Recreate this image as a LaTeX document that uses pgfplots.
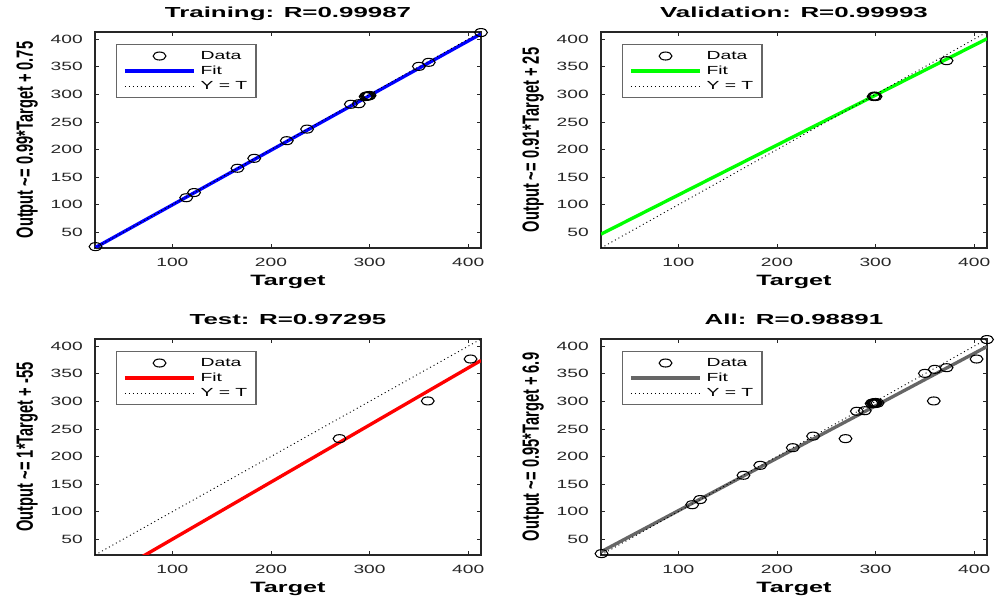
\documentclass[border=0pt]{standalone}
\usepackage{fontspec}
\setmainfont{Liberation Sans}
\usepackage{graphicx}
\usepackage{pgfplots}
\pgfplotsset{compat=1.18}

% the reference is stretched sideways, so text is widened to match
\newcommand{\sx}[2][1.6]{\scalebox{#1}[1]{#2}}
\newcommand{\sy}[1]{\scalebox{1}[1.6]{#1}}

\definecolor{fitgray}{RGB}{102,102,102}

\pgfplotsset{
  regplot/.style={
    width=289.5pt, height=162pt, scale only axis, anchor=south west,
    xmin=21.5, xmax=413, ymin=21.5, ymax=413,
    xtick={100,200,300,400}, ytick={50,100,150,200,250,300,350,400},
    xticklabels={\sx{100},\sx{200},\sx{300},\sx{400}},
    yticklabels={\sx{50},\sx{100},\sx{150},\sx{200},\sx{250},\sx{300},\sx{350},\sx{400}},
    tick label style={font=\fontsize{9}{9}\selectfont, black!85},
    xticklabel style={anchor=base, yshift=-13.7pt},
    yticklabel style={anchor=east, inner sep=0pt, xshift=-9pt},
    axis line style={black!85, line width=0.8pt},
    tick style={black!85, line width=0.6pt},
    major tick length=3pt, tick align=inside,
    xlabel={\sx[1.68]{Target}},
    xlabel style={font=\bfseries\fontsize{11.25}{12}\selectfont, at={(axis description cs:0.5,0)}, anchor=base, yshift=-28pt},
    ylabel style={font=\bfseries\fontsize{11}{12}\selectfont, at={(axis description cs:-0.176,0.5)}, anchor=center},
    title style={font=\bfseries\fontsize{10.9}{12}\selectfont, at={(axis description cs:0.5,1)}, anchor=base, yshift=5.1pt},
    legend style={at={(axis description cs:0,1)}, anchor=north west, xshift=15.75pt, yshift=-9pt,
      draw=black!60, line width=0.8pt, font=\fontsize{8.8}{9}\selectfont,
      inner xsep=5pt, inner ysep=3pt, row sep=0pt, column sep=2pt,
      nodes={inner sep=1.5pt, text height=6.75pt, text depth=1.5pt}},
    legend cell align=left,
    legend image code/.code={\draw[#1] (4pt,0pt) -- (56pt,0pt);},
  },
  datapts/.style={only marks, black, mark=o, mark size=3pt,
    mark options={xscale=1.6, line width=0.8pt, solid},
    legend image code/.code={\draw[mark repeat=2, mark phase=2, ##1] plot coordinates {(4pt,0pt) (30pt,0pt) (56pt,0pt)};}},
  ytline/.style={black, line width=0.7pt, dash pattern=on 0.75pt off 2.25pt},
  fitline/.style={line width=2.5pt,
    legend image code/.code={\draw[##1, line width=2.5pt] (4pt,0pt) -- (56pt,0pt);}},
}

\begin{document}
\begin{tikzpicture}
\useasboundingbox (0,0) rectangle (750.75pt,449.25pt);

% Training (lines first, circles drawn over them)
\begin{axis}[regplot, at={(71.25pt,263.25pt)},
  title={\sx[1.78]{Training: R=0.99987}},
  ylabel={\sy{Output \textasciitilde= 0.99*Target + 0.75}}]
\addplot[blue, fitline, forget plot] coordinates {(21.5,22.0) (413,409.6)};
\addplot[ytline, forget plot] coordinates {(21.5,21.5) (413,413)};
\addplot[datapts] coordinates {(22,24) (114,112.6) (122,122) (166,166) (183,184) (216,216) (236.6,237) (281,282) (289,283) (296,296) (297,297) (298,297) (299,297) (300,298) (350,350.7) (360,358) (413,412)};
\addlegendentry{\sx[1.65]{Data}}
\addlegendimage{blue, fitline}
\addlegendentry{\sx[1.65]{Fit}}
\addlegendimage{ytline}
\addlegendentry{\sx[1.65]{Y = T}}
\end{axis}

% Validation
\begin{axis}[regplot, at={(450.75pt,263.25pt)},
  title={\sx[1.78]{Validation: R=0.99993}},
  ylabel={\sy{Output \textasciitilde= 0.91*Target + 25}}]
\addplot[green, fitline, forget plot] coordinates {(21.5,46.6) (413,400.8)};
\addplot[ytline, forget plot] coordinates {(21.5,21.5) (413,413)};
\addplot[datapts] coordinates {(298,296) (299,297) (300,296) (372,361)};
\addlegendentry{\sx[1.65]{Data}}
\addlegendimage{green, fitline}
\addlegendentry{\sx[1.65]{Fit}}
\addlegendimage{ytline}
\addlegendentry{\sx[1.65]{Y = T}}
\end{axis}

% Test
\begin{axis}[regplot, at={(71.25pt,33pt)},
  title={\sx[1.78]{Test: R=0.97295}},
  ylabel={\sy{Output \textasciitilde= 1*Target + -55}}]
\addplot[red, fitline, forget plot] coordinates {(21.5,-31.1) (413,374.1)};
\addplot[ytline, forget plot] coordinates {(21.5,21.5) (413,413)};
\addplot[datapts] coordinates {(269.5,232.4) (359,300.7) (402.4,376.7)};
\addlegendentry{\sx[1.65]{Data}}
\addlegendimage{red, fitline}
\addlegendentry{\sx[1.65]{Fit}}
\addlegendimage{ytline}
\addlegendentry{\sx[1.65]{Y = T}}
\end{axis}

% All
\begin{axis}[regplot, at={(450.75pt,33pt)},
  title={\sx[1.78]{All: R=0.98891}},
  ylabel={\sy{Output \textasciitilde= 0.95*Target + 6.9}}]
\addplot[fitgray, fitline, forget plot] coordinates {(21.5,27.3) (413,399.3)};
\addplot[ytline, forget plot] coordinates {(21.5,21.5) (413,413)};
\addplot[datapts] coordinates {(22,24) (114,112.6) (122,122) (166,166) (183,184) (216,216) (236.6,237) (281,282) (289,283) (296,296) (297,297) (298,297) (299,297) (300,298) (350,350.7) (360,358) (413,412)
  (298,296) (299,297) (300,296) (302,297) (372,361)
  (269.5,232.4) (359,300.7) (402.4,376.7)};
\addlegendentry{\sx[1.65]{Data}}
\addlegendimage{fitgray, fitline}
\addlegendentry{\sx[1.65]{Fit}}
\addlegendimage{ytline}
\addlegendentry{\sx[1.65]{Y = T}}
\end{axis}
\end{tikzpicture}
\end{document}
